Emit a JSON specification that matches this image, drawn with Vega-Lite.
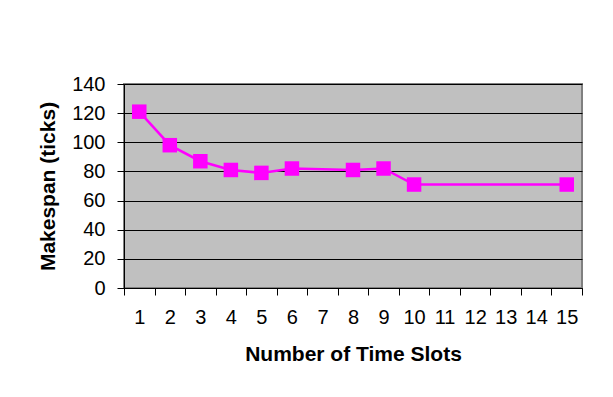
{
  "$schema": "https://vega.github.io/schema/vega-lite/v6.json",
  "autosize": "none",
  "width": 458,
  "height": 204,
  "padding": {"left": 124, "top": 84, "right": 31, "bottom": 109},
  "background": "white",
  "config": {
    "font": "Liberation Sans",
    "view": {"fill": "#C0C0C0", "stroke": "#808080", "strokeWidth": 2}
  },
  "data": {
    "values": [
      {"slots": "1", "makespan": 121},
      {"slots": "2", "makespan": 98},
      {"slots": "3", "makespan": 87},
      {"slots": "4", "makespan": 81},
      {"slots": "5", "makespan": 79},
      {"slots": "6", "makespan": 82},
      {"slots": "8", "makespan": 81},
      {"slots": "9", "makespan": 82},
      {"slots": "10", "makespan": 71},
      {"slots": "15", "makespan": 71}
    ]
  },
  "encoding": {
    "x": {
      "field": "slots",
      "type": "ordinal",
      "bandPosition": 0.5,
      "sort": null,
      "scale": {
        "type": "band",
        "domain": ["1","2","3","4","5","6","7","8","9","10","11","12","13","14","15"],
        "paddingInner": 0,
        "paddingOuter": 0
      },
      "axis": {
        "title": "Number of Time Slots",
        "titleFontSize": 21,
        "titleFontWeight": "bold",
        "titleColor": "#000000",
        "titlePadding": 16,
        "labelAngle": 0,
        "labelFontSize": 20,
        "labelColor": "#000000",
        "labelPadding": 12,
        "tickBand": "extent",
        "tickSize": 7,
        "tickColor": "#000000",
        "domainColor": "#000000",
        "grid": false
      }
    },
    "y": {
      "field": "makespan",
      "type": "quantitative",
      "scale": {"domain": [0, 140], "nice": false},
      "axis": {
        "title": "Makespan (ticks)",
        "titleFontSize": 21,
        "titleFontWeight": "bold",
        "titleColor": "#000000",
        "titlePadding": 13,
        "values": [0, 20, 40, 60, 80, 100, 120, 140],
        "labelFontSize": 20,
        "labelColor": "#000000",
        "labelPadding": 12,
        "tickSize": 7,
        "tickColor": "#000000",
        "domainColor": "#000000",
        "grid": true,
        "gridColor": "#000000",
        "gridWidth": 1
      }
    }
  },
  "layer": [
    {"mark": {"type": "line", "color": "#FF00FF", "strokeWidth": 2.5}},
    {"mark": {"type": "point", "shape": "square", "filled": true, "opacity": 1, "color": "#FF00FF", "size": 210}}
  ]
}
